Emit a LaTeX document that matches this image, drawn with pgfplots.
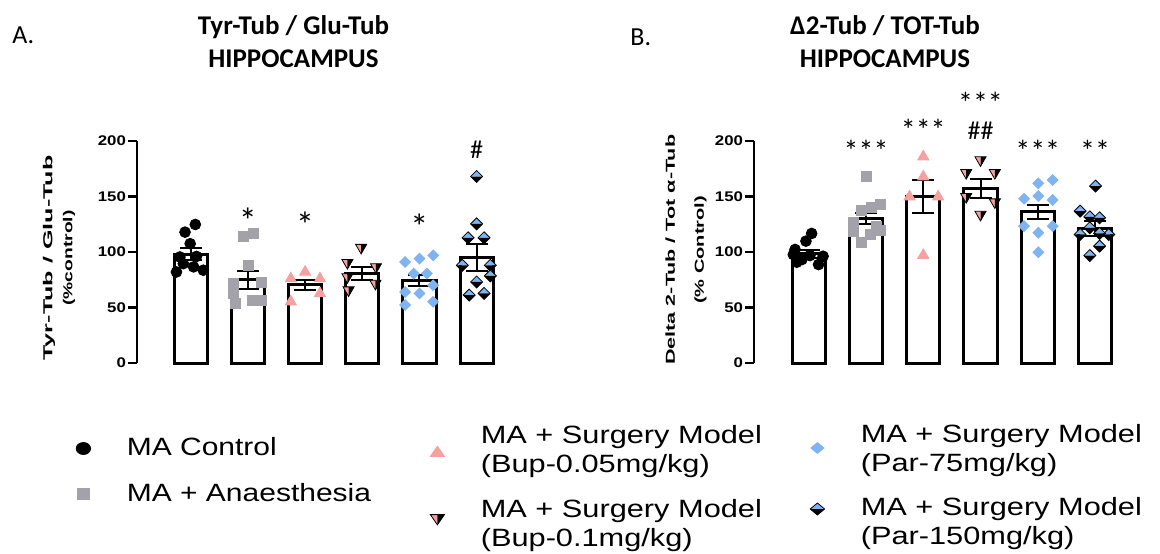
\documentclass[border=0pt]{standalone}
\usepackage{fontspec}
\setmainfont{Liberation Sans}
\newfontfamily\calibri{Carlito}
\usepackage{graphicx}
\usepackage{pgfplots}
\usepackage{pgfplotstable}
\pgfplotsset{compat=1.18}

\definecolor{mgray}{RGB}{162,162,168}
\definecolor{mpink}{RGB}{247,160,160}
\definecolor{mblue}{RGB}{128,180,240}

\pgfdeclareplotmark{rdiam}{%
  \pgfpathmoveto{\pgfqpoint{\pgfplotmarksize}{0pt}}%
  \pgfpathlineto{\pgfqpoint{0pt}{\pgfplotmarksize}}%
  \pgfpathlineto{\pgfqpoint{-\pgfplotmarksize}{0pt}}%
  \pgfpathlineto{\pgfqpoint{0pt}{-\pgfplotmarksize}}%
  \pgfpathclose\pgfusepathqfill}
\pgfdeclareplotmark{hdiam}{%
  \pgfpathmoveto{\pgfqpoint{\pgfplotmarksize}{0pt}}%
  \pgfpathlineto{\pgfqpoint{0pt}{\pgfplotmarksize}}%
  \pgfpathlineto{\pgfqpoint{-\pgfplotmarksize}{0pt}}%
  \pgfpathclose\pgfusepathqfill
  \begin{pgfscope}\pgfsetfillcolor{black}%
  \pgfpathmoveto{\pgfqpoint{\pgfplotmarksize}{0pt}}%
  \pgfpathlineto{\pgfqpoint{0pt}{-\pgfplotmarksize}}%
  \pgfpathlineto{\pgfqpoint{-\pgfplotmarksize}{0pt}}%
  \pgfpathclose\pgfusepathqfill\end{pgfscope}%
  \pgfpathmoveto{\pgfqpoint{\pgfplotmarksize}{0pt}}%
  \pgfpathlineto{\pgfqpoint{0pt}{\pgfplotmarksize}}%
  \pgfpathlineto{\pgfqpoint{-\pgfplotmarksize}{0pt}}%
  \pgfpathlineto{\pgfqpoint{0pt}{-\pgfplotmarksize}}%
  \pgfpathclose\pgfusepathqstroke}
\pgfdeclareplotmark{htri}{%
  \pgfpathmoveto{\pgfqpoint{0pt}{-\pgfplotmarksize}}%
  \pgfpathlineto{\pgfqpoint{-0.866\pgfplotmarksize}{0.5\pgfplotmarksize}}%
  \pgfpathlineto{\pgfqpoint{0pt}{0.5\pgfplotmarksize}}%
  \pgfpathclose\pgfusepathqfill
  \begin{pgfscope}\pgfsetfillcolor{black}%
  \pgfpathmoveto{\pgfqpoint{0pt}{-\pgfplotmarksize}}%
  \pgfpathlineto{\pgfqpoint{0.866\pgfplotmarksize}{0.5\pgfplotmarksize}}%
  \pgfpathlineto{\pgfqpoint{0pt}{0.5\pgfplotmarksize}}%
  \pgfpathclose\pgfusepathqfill\end{pgfscope}%
  \pgfpathmoveto{\pgfqpoint{0pt}{-\pgfplotmarksize}}%
  \pgfpathlineto{\pgfqpoint{-0.866\pgfplotmarksize}{0.5\pgfplotmarksize}}%
  \pgfpathlineto{\pgfqpoint{0.866\pgfplotmarksize}{0.5\pgfplotmarksize}}%
  \pgfpathclose\pgfusepathqstroke}

\newcommand{\sx}[1]{\scalebox{1.2}[1]{#1}}
\newcommand{\sy}[1]{\scalebox{1.23}[1]{#1}}
\newcommand{\twol}[2]{\begin{tabular}{@{}l@{}}#1\\#2\end{tabular}}
\def\legdy{0pt}

\pgfplotstableread{
x y e
0 98 5.5
1 75 8
2 70.5 4.5
3 80.5 6
4 74 5
5 95 12.5
}\barsA
\pgfplotstableread{
x y e
0 98.3 3.5
1 130 5
2 150 15
3 157.6 8.5
4 136.2 6.5
5 121.2 6.5
}\barsB

\pgfplotsset{
  mybar/.style={
    scale only axis, height=111pt,
    ymin=0, ymax=200, ytick={0,50,100,150,200},
    yticklabels={\sx{0},\sx{50},\sx{100},\sx{150},\sx{200}},
    yticklabel style={font=\bfseries\fontsize{7}{8}\selectfont, xshift=2.5pt},
    axis x line=none, axis y line*=left,
    axis line style={line width=1.2pt},
    ytick style={line width=1.2pt, black},
    tick align=outside, major tick length=4.5pt,
    clip=false,
  },
  barst/.style={ybar, bar width=0.58, fill=white, draw=black, line width=1.5pt},
  errst/.style={draw=none, mark=none, forget plot,
    error bars/.cd, y dir=both, y explicit,
    error bar style={draw=black, line width=1pt},
    error mark options={rotate=90, mark size=5.5pt, line width=1pt, draw=black}},
  gC/.style={only marks, mark=*, mark size=2.7pt, black},
  gS/.style={only marks, mark=square*, mark size=2.5pt, mark options={fill=mgray, draw=mgray}},
  gT/.style={only marks, mark=triangle*, mark size=3.2pt, mark options={fill=mpink, draw=mpink}},
  gH/.style={only marks, mark=htri, mark size=3.2pt, mark options={fill=mpink, draw=black, line width=0.4pt}},
  gD/.style={only marks, mark=rdiam, mark size=3pt, mark options={fill=mblue, draw=mblue}},
  gE/.style={only marks, mark=hdiam, mark size=3pt, mark options={fill=mblue, draw=black, line width=0.4pt}},
  legax/.style={hide axis, scale only axis, width=1pt, height=1pt,
    xmin=0, xmax=1, ymin=0, ymax=1,
    legend cell align=left,
    legend style={at={(0,0)}, anchor=west, draw=none, fill=none,
      inner sep=0pt, outer sep=0pt, column sep=0pt,
      nodes={inner sep=0pt, outer sep=0pt, font=\fontsize{12.5}{14.5}\selectfont}},
    legend image code/.code={\path (-4pt,0pt) (21.5pt,0pt); \draw[##1] plot coordinates {(0pt,\legdy)};}},
}

\begin{document}
\begin{tikzpicture}
\useasboundingbox (0,0) rectangle (580pt,276.5pt);

\node[font=\calibri\bfseries\fontsize{13.5}{16.5}\selectfont, align=center] at (146.75pt,255.6pt) {Tyr-Tub / Glu-Tub\\HIPPOCAMPUS};
\node[font=\calibri\bfseries\fontsize{13.5}{16.5}\selectfont, align=center] at (442.5pt,255.6pt) {Δ2-Tub / TOT-Tub\\HIPPOCAMPUS};
\node[font=\calibri\fontsize{13}{15}\selectfont, anchor=west, inner sep=0pt] at (6pt,259pt) {A.};
\node[font=\calibri\fontsize{13}{15}\selectfont, anchor=west, inner sep=0pt] at (315pt,257.75pt) {B.};

% ---------------- Panel A
\begin{axis}[mybar, at={(68.5pt,95pt)}, width=184.1pt, xmin=-0.94, xmax=5.5,
  ylabel={\resizebox{102.5pt}{\height}{Tyr-Tub / Glu-Tub}\\\resizebox{47.5pt}{\height}{(\%control)}},
  ylabel style={font=\bfseries\fontsize{6.5}{10}\selectfont, align=center,
    at={(axis description cs:-0.212,0.473)}, anchor=center}]
\addplot[barst] table[x=x,y=y] {\barsA};
\addplot[gC] coordinates {(0.08,124.8)(-0.10,117.9)(-0.01,107.5)(-0.19,95.5)(0.10,96)(-0.25,82)(0.05,86.6)(0.22,83.6)(-0.13,89.5)};
\addplot[gS] coordinates {(0.92,114)(1.09,117)(1.0,88)(0.75,71.6)(1.24,73)(0.75,62.7)(0.78,53.7)(1.07,56.7)(1.24,56.7)};
\addplot[gT] coordinates {(2.0,82)(1.75,76)(2.26,76)(2.26,62.7)(1.75,55.2)};
\addplot[gH] coordinates {(2.98,104)(2.74,90.4)(3.24,86.6)(2.74,77.6)(3.23,71.6)(2.76,65.7)};
\addplot[gD] coordinates {(3.75,91)(4.0,94)(4.24,97)(3.9,80.6)(4.13,80.6)(4.24,70)(3.75,64)(4.0,62.7)(4.24,55.2)(3.75,52.2)};
\addplot[gE] coordinates {(5,168)(5,125.4)(4.85,112.8)(5.13,112.8)(4.75,88)(5.24,88)(5.24,78.5)(5,73)(4.87,61.2)(5.13,62.7)};
\addplot[errst] table[x=x,y=y,y error=e] {\barsA};
\node[font=\calibri\fontsize{18}{18}\selectfont] at (axis cs:1,128) {*};
\node[font=\calibri\fontsize{18}{18}\selectfont] at (axis cs:2,125) {*};
\node[font=\calibri\fontsize{18}{18}\selectfont] at (axis cs:4,123) {*};
\node[font=\calibri\fontsize{13}{13}\selectfont] at (axis cs:5,192) {\#};
\end{axis}

% ---------------- Panel B
\begin{axis}[mybar, at={(377pt,95pt)}, width=184.8pt, xmin=-0.957, xmax=5.5,
  ylabel={\resizebox{115pt}{\height}{Delta 2-Tub / Tot α-Tub}\\\resizebox{54pt}{\height}{(\% Control)}},
  ylabel style={font=\bfseries\fontsize{6.5}{14.5}\selectfont, align=center,
    at={(axis description cs:-0.184,0.51)}, anchor=center}]
\addplot[barst] table[x=x,y=y] {\barsB};
\addplot[gC] coordinates {(0.05,116.7)(-0.05,109.8)(-0.24,102.3)(-0.27,97.7)(-0.12,93.2)(0.17,88.7)(0.02,96.8)(0.25,96.2)(-0.21,90.8)};
\addplot[gS] coordinates {(1,167.8)(1.25,142.9)(1.1,139.8)(0.92,137.7)(0.78,118.8)(0.92,108.9)(1.18,123.3)(1.07,115.8)(1.25,119.7)(0.78,126.3)};
\addplot[gT] coordinates {(2,185.9)(2,167.8)(1.76,149.8)(2.26,149.8)(2,97.1)};
\addplot[gH] coordinates {(3,182.9)(2.75,171.4)(3.25,171.4)(2.75,149.8)(3.25,145)(3,133.8)};
\addplot[gD] coordinates {(4.01,161.8)(4.26,164.8)(3.76,148)(4.01,150.4)(4.26,146.8)(3.76,123.3)(4.26,123.3)(4.01,117.3)(4.01,99.8)};
\addplot[gE] coordinates {(5.01,159.4)(4.74,136.8)(4.91,131.7)(5.08,130.8)(4.91,121.8)(4.74,115.8)(5.24,115.8)(5.08,116.7)(5.08,105.3)(4.91,96.8)};
\addplot[errst] table[x=x,y=y,y error=e] {\barsB};
\node[font=\calibri\fontsize{15}{15}\selectfont] at (axis cs:1,191) {***};
\node[font=\calibri\fontsize{15}{15}\selectfont] at (axis cs:2,210) {***};
\node[font=\calibri\fontsize{15}{15}\selectfont] at (axis cs:3,234) {***};
\node[font=\calibri\fontsize{13}{13}\selectfont] at (axis cs:3,209) {\#\#};
\node[font=\calibri\fontsize{15}{15}\selectfont] at (axis cs:4,191) {***};
\node[font=\calibri\fontsize{15}{15}\selectfont] at (axis cs:5,191) {**};
\end{axis}

% ---------------- Legend
\gdef\legdy{-0.5pt}
\begin{axis}[legax, at={(37.5pt,52.75pt)}]
\addlegendimage{only marks, mark=*, mark size=3pt, black, mark options={xscale=1.2}}
\addlegendentry{\sx{MA Control}}
\end{axis}
\gdef\legdy{0pt}
\begin{axis}[legax, at={(37.5pt,29.5pt)}]
\addlegendimage{only marks, mark=square*, mark size=2.7pt, mark options={fill=mgray, draw=mgray, xscale=1.2}}
\addlegendentry{\sx{MA + Anaesthesia}}
\end{axis}
\gdef\legdy{-5.65pt}
\begin{axis}[legax, at={(214.5pt,55.65pt)}]
\addlegendimage{only marks, mark=triangle*, mark size=3.4pt, mark options={fill=mpink, draw=mpink, xscale=1.2}}
\addlegendentry{\sy{\twol{MA + Surgery Model}{(Bup-0.05mg/kg)}}}
\end{axis}
\gdef\legdy{-1.15pt}
\begin{axis}[legax, at={(214.5pt,18.65pt)}]
\addlegendimage{only marks, mark=htri, mark size=3.4pt, mark options={fill=mpink, draw=black, line width=0.4pt, xscale=1.2}}
\addlegendentry{\sy{\twol{MA + Surgery Model}{(Bup-0.1mg/kg)}}}
\end{axis}
\gdef\legdy{-3.65pt}
\begin{axis}[legax, at={(404.5pt,56.15pt)}]
\addlegendimage{only marks, mark=rdiam, mark size=3pt, mark options={fill=mblue, draw=mblue, xscale=1.2}}
\addlegendentry{\sy{\twol{MA + Surgery Model}{(Par-75mg/kg)}}}
\end{axis}
\gdef\legdy{2.35pt}
\begin{axis}[legax, at={(404.5pt,19.65pt)}]
\addlegendimage{only marks, mark=hdiam, mark size=3pt, mark options={fill=mblue, draw=black, line width=0.4pt, xscale=1.2}}
\addlegendentry{\sy{\twol{MA + Surgery Model}{(Par-150mg/kg)}}}
\end{axis}
\end{tikzpicture}
\end{document}
